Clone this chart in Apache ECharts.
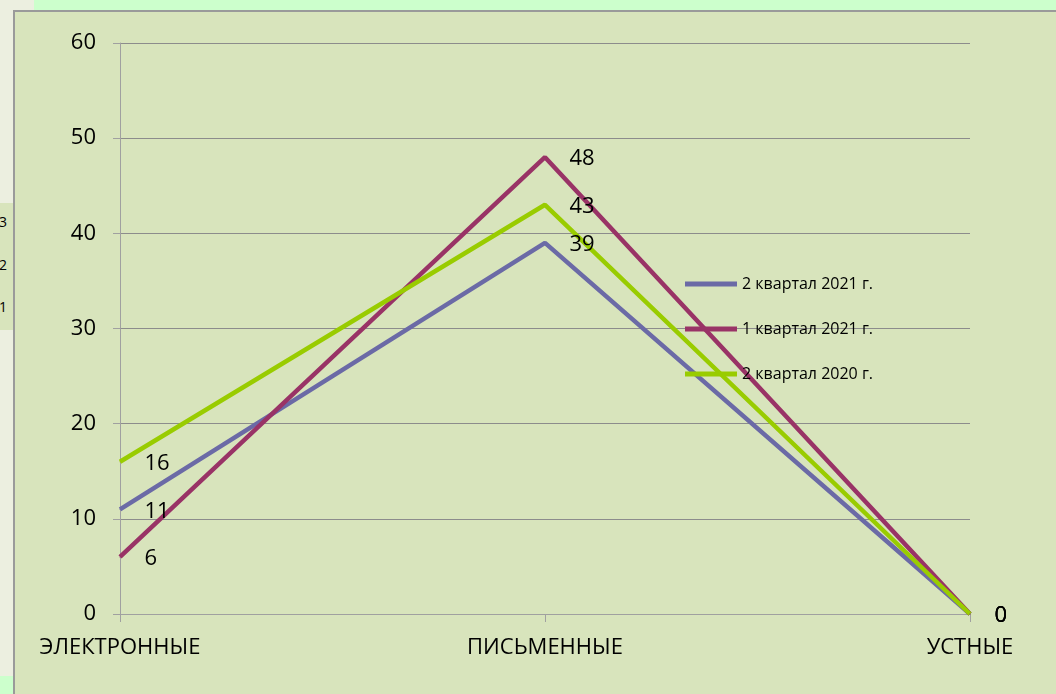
<!DOCTYPE html>
<html>
<head>
<meta charset="utf-8">
<script src="https://cdn.jsdelivr.net/npm/echarts@6/dist/echarts.min.js"></script>
<style>
  html, body { margin: 0; padding: 0; }
  body { width: 1056px; height: 694px; background: #ecefe0; position: relative; overflow: hidden; font-family: "Open Sans", "Noto Sans", sans-serif; }
  .top-strip { position: absolute; left: 34px; top: 0; width: 1022px; height: 10px; background: #ccffcc; }
  .bottom-strip { position: absolute; left: 0; top: 676px; width: 13px; height: 18px; background: #ccffcc; }
  .side-strip { position: absolute; left: 0; top: 203px; width: 13px; height: 127px; background: #d8e4bc; overflow: hidden; }
  .side-strip span { position: absolute; right: 6px; font-size: 14px; color: #000; line-height: 14px; }
  .box { position: absolute; left: 13px; top: 10px; right: 0; bottom: 0; background: #d8e4bc; border-left: 2px solid #9a9a9a; border-top: 2px solid #9a9a9a; }
  .chart { position: absolute; left: 0; top: 0; width: 1056px; height: 694px; }
</style>
</head>
<body>
<div class="top-strip"></div>
<div class="bottom-strip"></div>
<div class="side-strip">
  <span style="top:12px">3</span>
  <span style="top:55px">2</span>
  <span style="top:97px">1</span>
</div>
<div class="box"></div>
<div class="chart"></div>
<script>
// данные
const categories = ['ЭЛЕКТРОННЫЕ', 'ПИСЬМЕННЫЕ', 'УСТНЫЕ'];
const seriesNames = ['2 квартал 2021 г.', '1 квартал 2021 г.', '2 квартал 2020 г.'];
const q2_2021 = [11, 39, 0];
const q1_2021 = [6, 48, 0];
const q2_2020 = [16, 43, 0];
const yTicks = [0, 10, 20, 30, 40, 50, 60];

(function () {
  const myChart = echarts.init(document.querySelector('.chart'));
  const colors = ['#6b6aa6', '#993366', '#99cc00'];
  const values = [q2_2021, q1_2021, q2_2020];
  const font = '"Open Sans", "Noto Sans", sans-serif';

  let option = {
    color: colors,
    textStyle: { fontFamily: font },
    grid: {
      left: 120,
      right: 86,
      top: 43,
      bottom: 80
    },
    legend: {
      orient: 'vertical',
      left: 680,
      top: 271,
      icon: 'rect',
      itemWidth: 52,
      itemHeight: 5,
      itemGap: 29,
      itemTextGap: 6,
      textStyle: { color: '#000', fontSize: 16, fontFamily: font },
      data: seriesNames
    },
    xAxis: {
      type: 'category',
      boundaryGap: false,
      data: categories,
      axisLine: { lineStyle: { color: '#a0a0a0', width: 1 } },
      axisTick: { show: true, length: 8, lineStyle: { color: '#a0a0a0' } },
      axisLabel: { color: '#000', fontSize: 22, margin: 23, fontFamily: font }
    },
    yAxis: {
      type: 'value',
      min: yTicks[0],
      max: yTicks[yTicks.length - 1],
      interval: 10,
      axisLine: { show: true, lineStyle: { color: '#a0a0a0', width: 1 } },
      axisTick: { show: true, length: 7, lineStyle: { color: '#a0a0a0' } },
      axisLabel: { color: '#000', fontSize: 22, margin: 24, fontFamily: font },
      splitLine: { lineStyle: { color: '#8c8c8c', width: 1 } }
    },
    series: seriesNames.map(function (name, i) {
      return {
        name: name,
        type: 'line',
        data: values[i],
        symbol: 'circle',
        symbolSize: 1,
        showSymbol: true,
        itemStyle: { color: colors[i] },
        lineStyle: { width: 4.5, color: colors[i] },
        label: {
          show: true,
          position: 'right',
          distance: 24,
          offset: [0, 2],
          color: '#000',
          fontSize: 22,
          fontFamily: font
        },
        animation: false
      };
    })
  };
  myChart.setOption(option);
  window.addEventListener('resize', function () {
    myChart.resize();
  });
})();
</script>
</body>
</html>
